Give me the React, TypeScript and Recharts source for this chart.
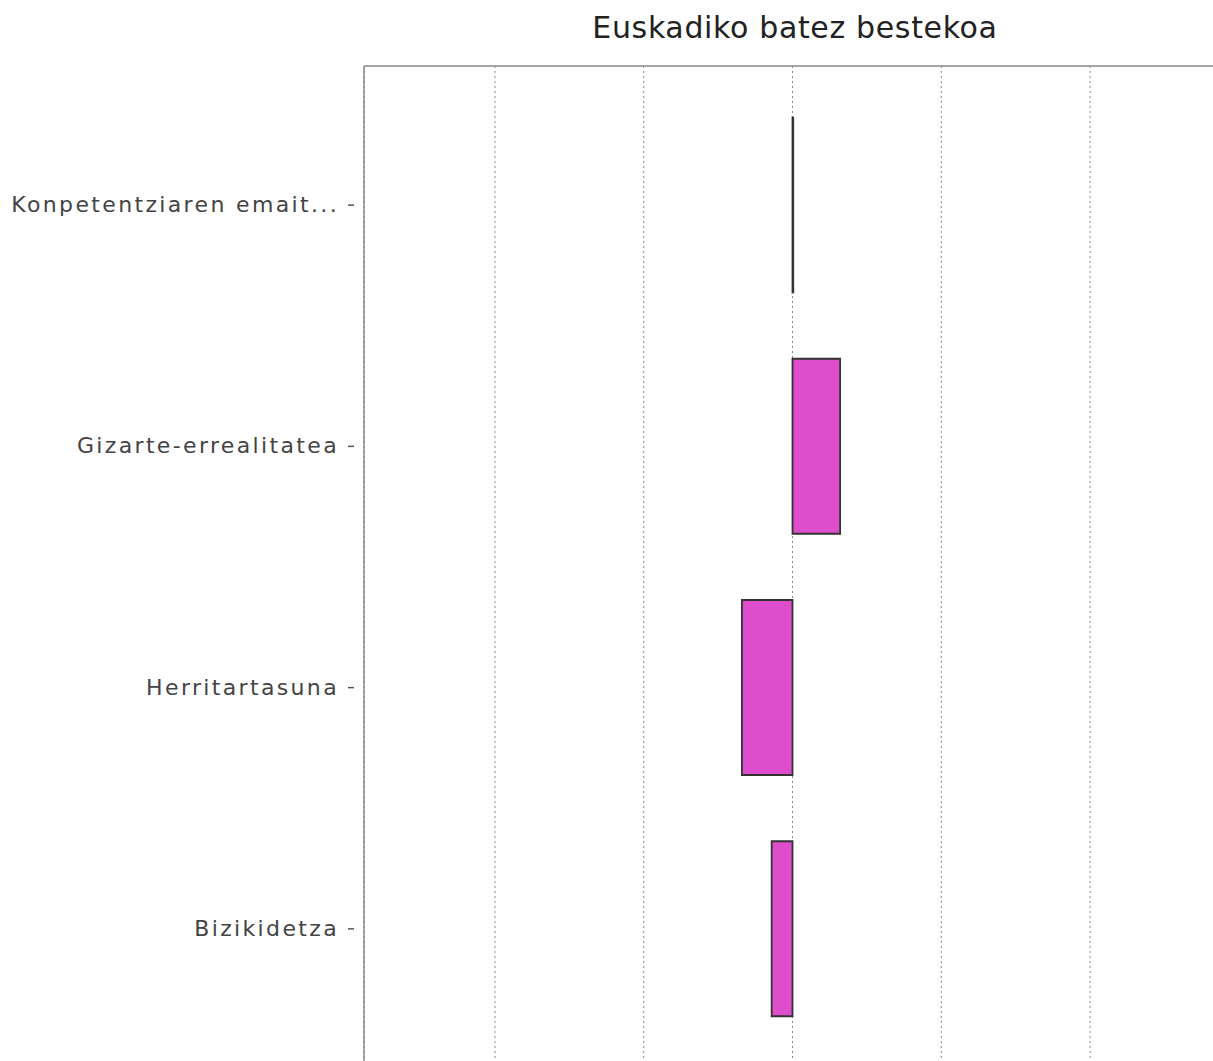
import React from 'react';
import { BarChart, Bar, XAxis, YAxis, CartesianGrid } from 'recharts';

const categories = [
  'Konpetentziaren emait...',
  'Gizarte-errealitatea',
  'Herritartasuna',
  'Bizikidetza',
];
const diffValues = [0.05, 3.2, -3.4, -1.4];
const gridTicks = [-20, -10, 0, 10, 20];

const data = categories.map((name, i) => ({ name, value: diffValues[i] }));

const FONT = '"DejaVu Sans", sans-serif';

const CategoryTick = (props: any) => {
  const { x, y, payload } = props;
  return (
    <g>
      <text
        x={x - 25}
        y={y + 7}
        textAnchor="end"
        fill="#444"
        fontSize={22}
        fontFamily={FONT}
        letterSpacing={2.35}
      >
        {payload.value}
      </text>
      <line x1={x - 16} x2={x - 10} y1={y} y2={y} stroke="#555" strokeWidth={1.5} />
    </g>
  );
};

const EmptyTick = () => <g />;

export default function App() {
  return (
    <div
      style={{
        position: 'fixed',
        left: 0,
        top: 0,
        width: 1213,
        height: 1061,
        overflow: 'hidden',
        background: '#fff',
      }}
    >
      <div
        style={{
          position: 'absolute',
          left: 495,
          width: 600,
          top: 10,
          textAlign: 'center',
          fontFamily: FONT,
          fontSize: 30,
          letterSpacing: 0.65,
          color: '#222',
        }}
      >
        Euskadiko batez bestekoa
      </div>
      <BarChart
        width={1240}
        height={1100}
        data={data}
        layout="vertical"
        margin={{ top: 65, right: 19, bottom: 32, left: 0 }}
        barCategoryGap={33}
      >
        <CartesianGrid
          horizontal={false}
          vertical={true}
          stroke="#888"
          strokeDasharray="2 3"
        />
        <XAxis
          type="number"
          orientation="top"
          domain={[-28.8, 28.8]}
          ticks={gridTicks}
          interval={0}
          height={1}
          tick={<EmptyTick />}
          tickLine={false}
          axisLine={{ stroke: '#888', strokeWidth: 1.5 }}
        />
        <YAxis
          type="category"
          dataKey="name"
          width={364}
          padding={{ top: 18.5, bottom: 18.5 }}
          tickSize={0}
          tickMargin={0}
          tickLine={false}
          tick={<CategoryTick />}
          axisLine={{ stroke: '#888', strokeWidth: 1.5 }}
        />
        <Bar
          dataKey="value"
          fill="#DD4DCC"
          stroke="#333"
          strokeWidth={1.8}
          isAnimationActive={false}
        />
      </BarChart>
    </div>
  );
}
